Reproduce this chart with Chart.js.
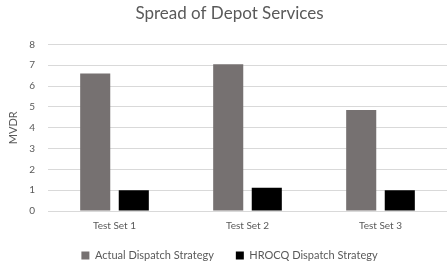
<!DOCTYPE html>
<html>
<head>
<meta charset="utf-8">
<script src="https://cdn.jsdelivr.net/npm/chart.js@4/dist/chart.umd.min.js"></script>
<style>
html,body{margin:0;padding:0;background:#fff;}
#wrap{width:447px;height:265px;overflow:hidden;}
</style>
</head>
<body>
<div id="wrap"><canvas id="c" width="447" height="265"></canvas></div>
<script>
const categories = ["Test Set 1", "Test Set 2", "Test Set 3"];
const actualDispatch = [6.6, 7.05, 4.85];
const hrocqDispatch = [1.0, 1.12, 1.0];
const yTicks = [0, 1, 2, 3, 4, 5, 6, 7, 8];

const FONT = "Lato, 'Open Sans', sans-serif";
const TXT = "#595959";

const legendShift = {
  id: 'legendShift',
  beforeDraw(chart) {
    const lg = chart.legend;
    if (lg) { lg.top -= 5; lg.bottom -= 5; }
  }
};

new Chart(document.getElementById('c'), {
  type: 'bar',
  data: {
    labels: categories,
    datasets: [
      { label: "Actual Dispatch Strategy", data: actualDispatch, backgroundColor: "#767171", categoryPercentage: 0.58, barPercentage: 0.78 },
      { label: "HROCQ Dispatch Strategy", data: hrocqDispatch, backgroundColor: "#000000", categoryPercentage: 0.58, barPercentage: 0.78 }
    ]
  },
  plugins: [legendShift],
  options: {
    responsive: false,
    animation: false,
    layout: { padding: { left: 7, right: -5, top: 0, bottom: -11 } },
    plugins: {
      title: {
        display: true,
        text: "Spread of Depot Services",
        color: TXT,
        font: { family: FONT, size: 17, weight: 'normal' },
        padding: { top: 3, bottom: 21 }
      },
      legend: {
        position: 'bottom',
        labels: {
          color: TXT,
          font: { family: FONT, size: 11 },
          boxWidth: 8,
          boxHeight: 8,
          padding: 22
        }
      },
      tooltip: { enabled: false }
    },
    scales: {
      x: {
        grid: { display: false },
        border: { color: "#d9d9d9" },
        ticks: { color: TXT, font: { family: FONT, size: 10 }, padding: 1 }
      },
      y: {
        min: 0,
        max: 8,
        afterBuildTicks: (ax) => { ax.ticks = yTicks.map(v => ({ value: v })); },
        grid: { color: "#d9d9d9", drawTicks: false },
        border: { display: false },
        ticks: { color: TXT, font: { family: FONT, size: 10 }, padding: 13 },
        title: { display: true, text: "MVDR", color: TXT, font: { family: FONT, size: 11 }, padding: { top: 0, bottom: -4 } }
      }
    }
  }
});
</script>
</body>
</html>
